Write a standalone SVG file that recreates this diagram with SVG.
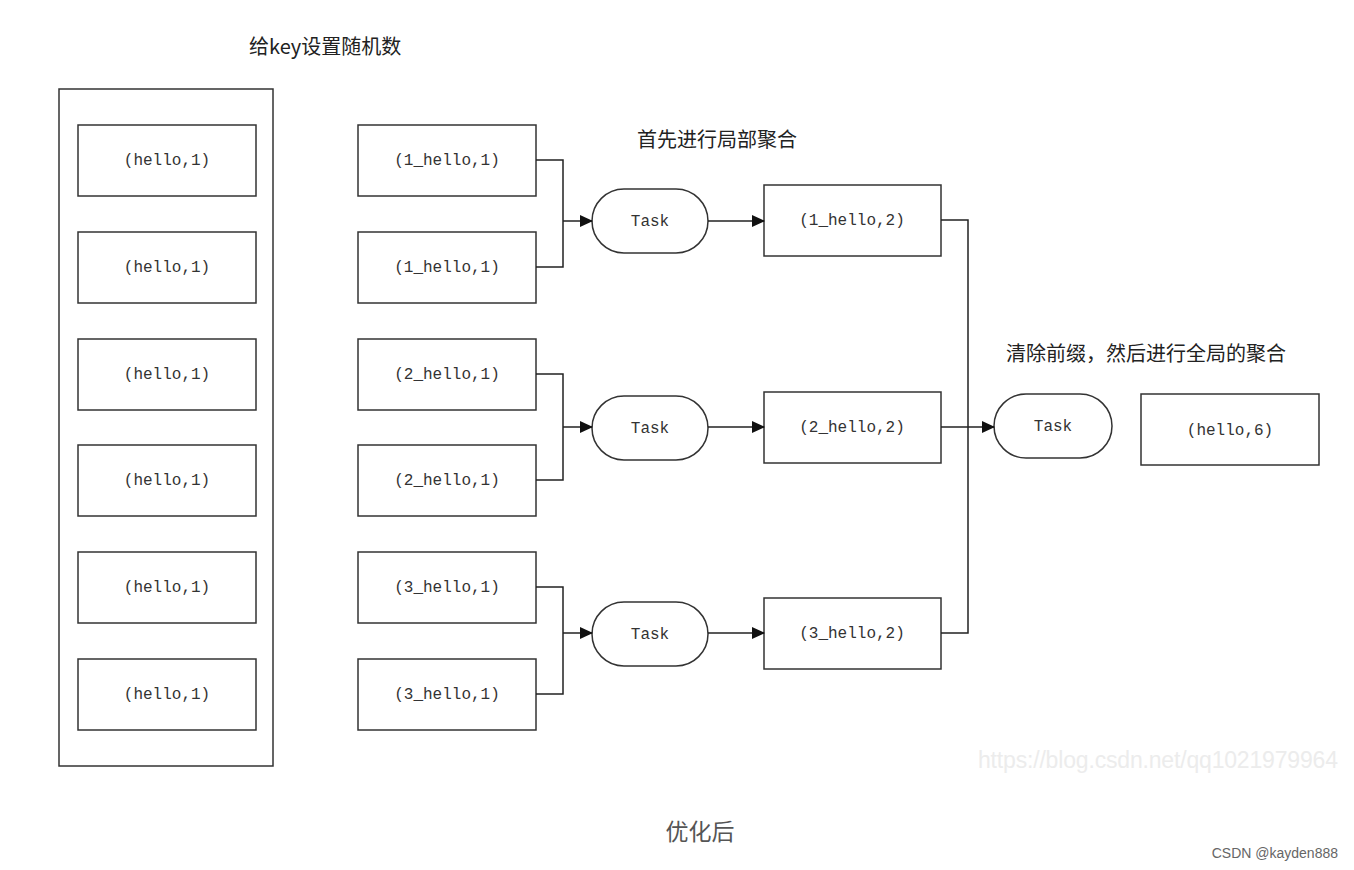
<svg xmlns="http://www.w3.org/2000/svg" width="1354" height="870" viewBox="0 0 1354 870">
<defs>
<style>
.box{fill:#fff;stroke:#333;stroke-width:1.5}
.lbl{font-family:"Liberation Mono",monospace;font-size:16px;fill:#333;text-anchor:middle}
.cn{font-family:"Noto Sans CJK SC",sans-serif;font-size:20px;fill:#222}
.wire{fill:none;stroke:#222;stroke-width:1.5}
</style>
<marker id="ah" markerWidth="13" markerHeight="12" refX="12" refY="6" orient="auto" markerUnits="userSpaceOnUse">
<path d="M0,0 L13,6 L0,12 z" fill="#111"/>
</marker>
</defs>
<rect width="1354" height="870" fill="#fff"/>
<text class="cn" x="249" y="54">给key设置随机数</text>
<text class="cn" x="637" y="147">首先进行局部聚合</text>
<text class="cn" x="1006" y="361">清除前缀，然后进行全局的聚合</text>
<g id="outer"><rect class="box" x="59" y="89" width="214" height="677"/></g>
<g id="l1"><rect class="box" x="78" y="125" width="178" height="71"/><text class="lbl" x="167" y="165">(hello,1)</text></g>
<g id="l2"><rect class="box" x="78" y="232" width="178" height="71"/><text class="lbl" x="167" y="272">(hello,1)</text></g>
<g id="l3"><rect class="box" x="78" y="339" width="178" height="71"/><text class="lbl" x="167" y="379">(hello,1)</text></g>
<g id="l4"><rect class="box" x="78" y="445" width="178" height="71"/><text class="lbl" x="167" y="485">(hello,1)</text></g>
<g id="l5"><rect class="box" x="78" y="552" width="178" height="71"/><text class="lbl" x="167" y="592">(hello,1)</text></g>
<g id="l6"><rect class="box" x="78" y="659" width="178" height="71"/><text class="lbl" x="167" y="699">(hello,1)</text></g>
<g id="m1"><rect class="box" x="358" y="125" width="178" height="71"/><text class="lbl" x="447" y="165">(1_hello,1)</text></g>
<g id="m2"><rect class="box" x="358" y="232" width="178" height="71"/><text class="lbl" x="447" y="272">(1_hello,1)</text></g>
<g id="m3"><rect class="box" x="358" y="339" width="178" height="71"/><text class="lbl" x="447" y="379">(2_hello,1)</text></g>
<g id="m4"><rect class="box" x="358" y="445" width="178" height="71"/><text class="lbl" x="447" y="485">(2_hello,1)</text></g>
<g id="m5"><rect class="box" x="358" y="552" width="178" height="71"/><text class="lbl" x="447" y="592">(3_hello,1)</text></g>
<g id="m6"><rect class="box" x="358" y="659" width="178" height="71"/><text class="lbl" x="447" y="699">(3_hello,1)</text></g>
<g id="t1"><rect class="box" x="592" y="189" width="116" height="64" rx="32"/><text class="lbl" x="650" y="226">Task</text></g>
<g id="t2"><rect class="box" x="592" y="396" width="116" height="64" rx="32"/><text class="lbl" x="650" y="433">Task</text></g>
<g id="t3"><rect class="box" x="592" y="602" width="116" height="64" rx="32"/><text class="lbl" x="650" y="639">Task</text></g>
<g id="r1"><rect class="box" x="764" y="185" width="177" height="71"/><text class="lbl" x="852" y="225">(1_hello,2)</text></g>
<g id="r2"><rect class="box" x="764" y="392" width="177" height="71"/><text class="lbl" x="852" y="432">(2_hello,2)</text></g>
<g id="r3"><rect class="box" x="764" y="598" width="177" height="71"/><text class="lbl" x="852" y="638">(3_hello,2)</text></g>
<g id="t4"><rect class="box" x="994" y="394" width="118" height="64" rx="32"/><text class="lbl" x="1053" y="431">Task</text></g>
<g id="final"><rect class="box" x="1141" y="394" width="178" height="71"/><text class="lbl" x="1230" y="435">(hello,6)</text></g>
<g id="connectors">
<path class="wire" d="M536,160 H563 V267 H536"/>
<path class="wire" d="M563,221 H592" marker-end="url(#ah)"/>
<path class="wire" d="M536,374 H563 V480 H536"/>
<path class="wire" d="M563,427 H592" marker-end="url(#ah)"/>
<path class="wire" d="M536,587 H563 V694 H536"/>
<path class="wire" d="M563,633 H592" marker-end="url(#ah)"/>
<path class="wire" d="M708,221 H764" marker-end="url(#ah)"/>
<path class="wire" d="M708,427 H764" marker-end="url(#ah)"/>
<path class="wire" d="M708,633 H764" marker-end="url(#ah)"/>
<path class="wire" d="M941,220 H968 V633 H941"/>
<path class="wire" d="M941,427 H994" marker-end="url(#ah)"/>
</g>
<text x="978" y="768" font-family="Liberation Sans,sans-serif" font-size="23" fill="#ececec" textLength="360">https://blog.csdn.net/qq1021979964</text>
<text x="700" y="840" text-anchor="middle" font-family="Noto Sans CJK SC,sans-serif" font-size="23" fill="#555">优化后</text>
<text x="1338" y="858" text-anchor="end" font-family="Liberation Sans,sans-serif" font-size="14" fill="#666">CSDN @kayden888</text>
</svg>
